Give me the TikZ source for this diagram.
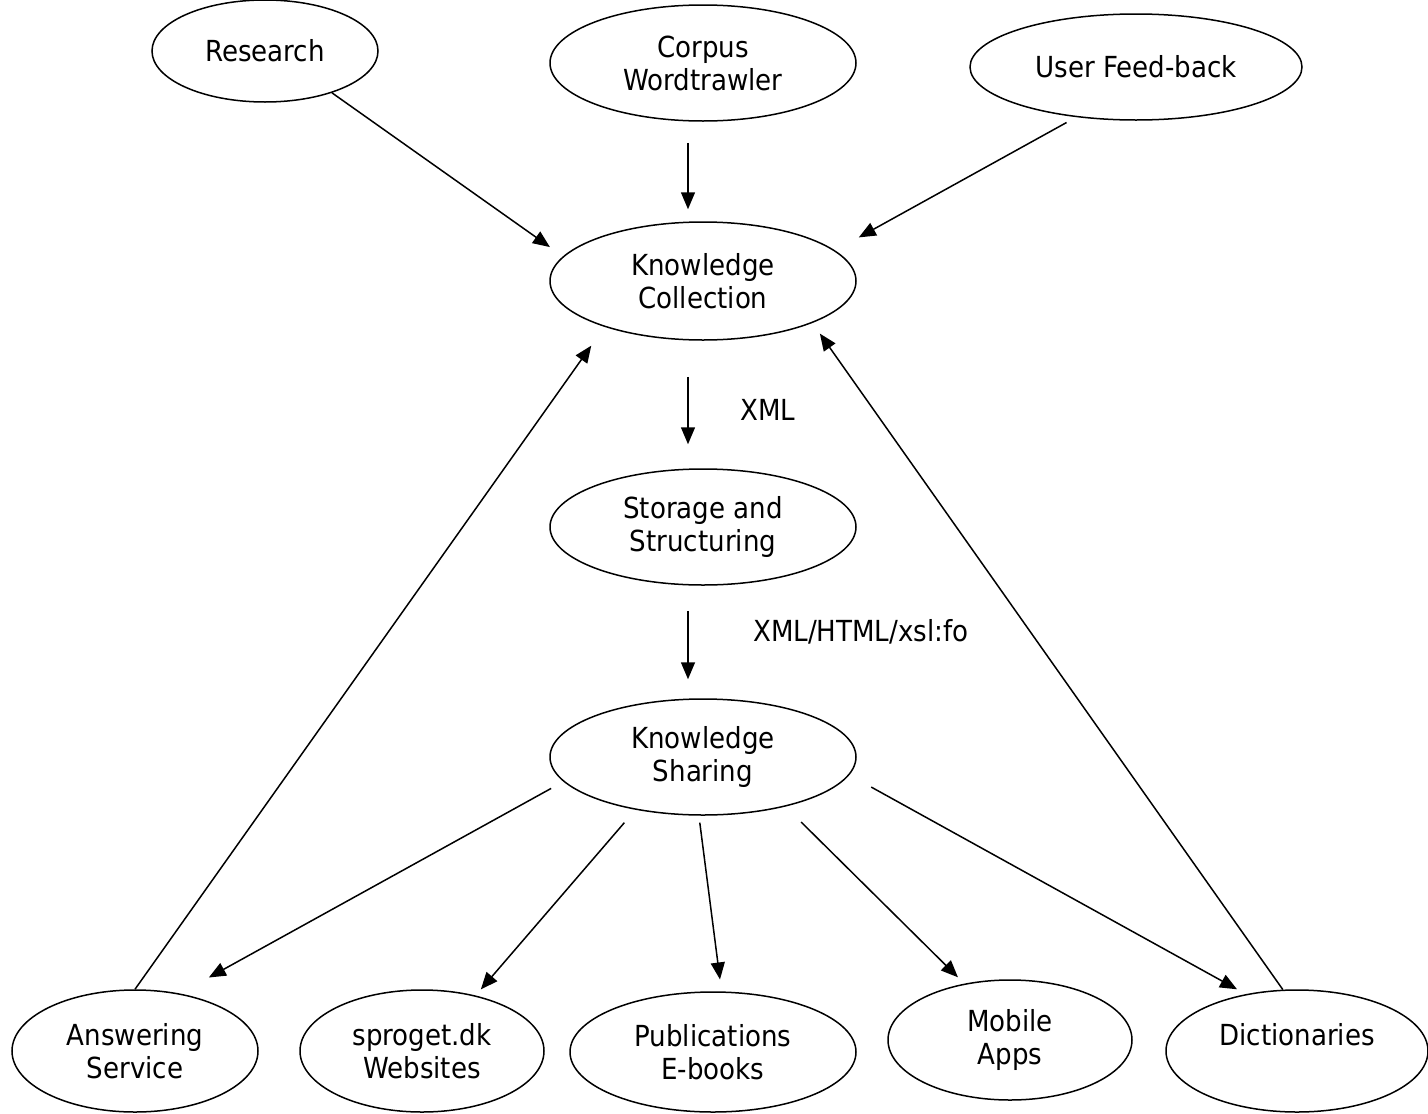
\documentclass[tikz,border=0pt]{standalone}
\usepackage{fontspec}
\setmainfont{DejaVu Sans Condensed}
\usetikzlibrary{positioning, arrows.meta, shapes.geometric}

\begin{document}
\begin{tikzpicture}[x=1pt, y=-1pt,
        bubble/.style={draw, ellipse, line width=1.5pt, inner sep=0pt, align=center, font=\fontsize{29}{33}\selectfont},
        flow/.style={-{Triangle[length=17pt, width=14pt]}, line width=1.5pt},
        tag/.style={right, inner sep=0pt, font=\fontsize{29}{33}\selectfont}]
    \useasboundingbox (0,0) rectangle (1428,1114);
    \node[bubble, minimum width=226pt, minimum height=102pt] (research) at (265,51) {Research};
    \node[bubble, minimum width=306pt, minimum height=116pt] (corpus) at (703,63) {Corpus\\Wordtrawler};
    \node[bubble, minimum width=332pt, minimum height=106pt] (feedback) at (1136,67) {User Feed-back};
    \node[bubble, minimum width=306pt, minimum height=118pt] (collect) at (703,281) {Knowledge\\Collection};
    \node[bubble, minimum width=306pt, minimum height=116pt] (storage) at (703,527) {Storage and\\Structuring};
    \node[bubble, minimum width=306pt, minimum height=116pt] (sharing) at (703,757) {Knowledge\\Sharing};
    \node[bubble, minimum width=246pt, minimum height=122pt] (answer) at (135,1051) {Answering\\Service};
    \node[bubble, minimum width=244pt, minimum height=122pt] (website) at (422,1051) {sproget.dk\\Websites};
    \node[bubble, minimum width=286pt, minimum height=120pt] (publish) at (713,1052) {Publications\\E-books};
    \node[bubble, minimum width=244pt, minimum height=120pt] (mobile) at (1010,1040) {Mobile\\Apps};
    \node[bubble, minimum width=262pt, minimum height=122pt] (dict) at (1297,1051) {Dictionaries\\~};
    \node[tag] (xmlA) at (740,410) {XML};
    \node[tag] (xmlB) at (753,632) {XML/HTML/xsl:fo};

    \draw[flow, shorten >=16pt] (research.-32) -- (collect.170);
    \draw[flow, shorten <=21pt, shorten >=12pt] ([xshift=-15pt]corpus.south) -- ([xshift=-15pt]collect.north);
    \draw[flow, shorten <=11pt, shorten >=27pt] (feedback.220) -- (collect.13);
    \draw[flow, shorten <=36pt, shorten >=24pt] ([xshift=-15pt]collect.south) -- ([xshift=-15pt]storage.north);
    \draw[flow, shorten <=25pt, shorten >=19pt] ([xshift=-15pt]storage.south) -- ([xshift=-15pt]sharing.north);
    \draw[flow, shorten <=14pt, shorten >=33pt] (sharing.190) -- (answer.52);
    \draw[flow, shorten <=17pt, shorten >=8pt] (sharing.218) -- (website.46);
    \draw[flow, shorten <=7pt, shorten >=12pt] (sharing.266) -- (publish.82);
    \draw[flow, shorten <=22pt, shorten >=9pt] (sharing.329) -- (mobile.129);
    \draw[flow, shorten <=25pt, shorten >=10pt] (sharing.353) -- (dict.132);
    \draw[flow, shorten >=23pt] (answer.north) -- (collect.205);
    \draw[flow, shorten >=13pt] (dict.103) -- (collect.339);
\end{tikzpicture}
\end{document}
